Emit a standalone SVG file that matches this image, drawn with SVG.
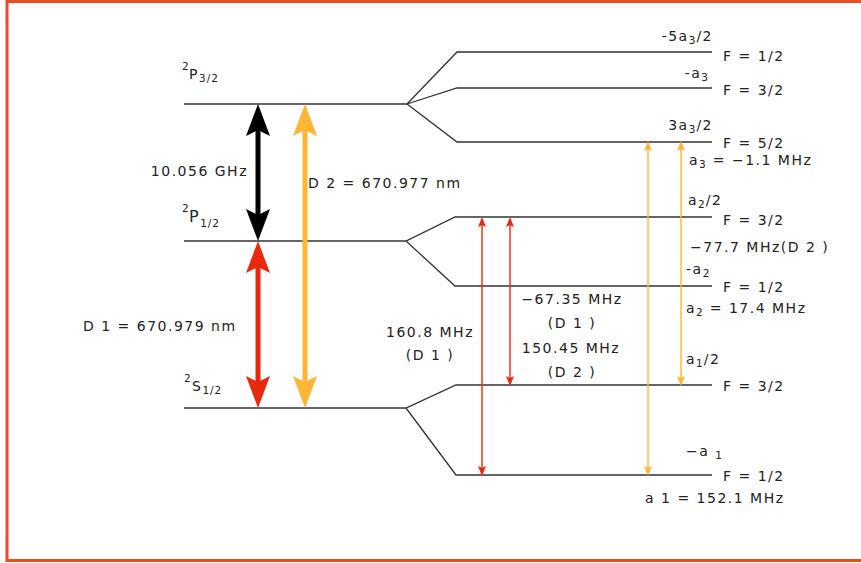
<svg xmlns="http://www.w3.org/2000/svg" width="861" height="563" viewBox="0 0 861 563">
<defs>
<style>
text{font-family:"DejaVu Sans","Noto Sans",sans-serif;font-size:14px;fill:#222;letter-spacing:1.5px}
.sub{font-size:10.5px;letter-spacing:1px}
.big{font-size:16px}
.lvl{stroke:#333;stroke-width:1.3;fill:none}
.thick{stroke-width:5;fill:none}
.thin{stroke-width:1.4;fill:none}
</style>
<marker id="hb" viewBox="0 0 32 24" refX="6" refY="12" markerWidth="32" markerHeight="24" markerUnits="userSpaceOnUse" orient="auto-start-reverse"><path d="M0,0 L32,12 L0,24 L6,12 Z" fill="#000"/></marker>
<marker id="hr" viewBox="0 0 32 24" refX="6" refY="12" markerWidth="32" markerHeight="24" markerUnits="userSpaceOnUse" orient="auto-start-reverse"><path d="M0,0 L32,12 L0,24 L6,12 Z" fill="#e8290f"/></marker>
<marker id="ho" viewBox="0 0 32 24" refX="6" refY="12" markerWidth="32" markerHeight="24" markerUnits="userSpaceOnUse" orient="auto-start-reverse"><path d="M0,0 L32,12 L0,24 L6,12 Z" fill="#ffb536"/></marker>
<marker id="tr" viewBox="0 0 10 8" refX="2" refY="4" markerWidth="10" markerHeight="8" markerUnits="userSpaceOnUse" orient="auto-start-reverse"><path d="M0,0 L10,4 L0,8 L2,4 Z" fill="#e8290f"/></marker>
<marker id="to" viewBox="0 0 10 8" refX="2" refY="4" markerWidth="10" markerHeight="8" markerUnits="userSpaceOnUse" orient="auto-start-reverse"><path d="M0,0 L10,4 L0,8 L2,4 Z" fill="#ffb536"/></marker>
</defs>
<rect width="861" height="563" fill="#fff"/>
<path d="M870,1.5 H7 V560.5 H870" fill="none" stroke="#f04a23" stroke-width="3"/>

<g id="level-P32">
<path class="lvl" d="M184,104 H407 L457,52 H712 M407,104 L457,88 H712 M407,104 L457,142 H712"/>
<text x="182" y="70" class="sub">2</text>
<text x="189" y="79">P<tspan class="sub" dy="3">3/2</tspan></text>
</g>
<g id="level-P12">
<path class="lvl" d="M184,241 H406 L455,217 H712 M406,241 L455,286 H712"/>
<text x="182" y="212" class="sub">2</text>
<text x="189" y="222" class="big">P<tspan class="sub" dy="5">1/2</tspan></text>
</g>
<g id="level-S12">
<path class="lvl" d="M184,408 H406 L456,385 H712 M406,408 L456,475 H712"/>
<text x="184" y="382" class="sub">2</text>
<text x="192" y="391">S<tspan class="sub" dy="3">1/2</tspan></text>
</g>

<g id="connectors">
<line class="thick" x1="258" y1="130" x2="258" y2="215" stroke="#000" marker-start="url(#hb)" marker-end="url(#hb)"/>
<line class="thick" x1="258" y1="267" x2="258" y2="382" stroke="#e8290f" marker-start="url(#hr)" marker-end="url(#hr)"/>
<line class="thick" x1="305" y1="130" x2="305" y2="382" stroke="#ffb536" marker-start="url(#ho)" marker-end="url(#ho)"/>
<line class="thin" x1="482" y1="225" x2="482" y2="468" stroke="#e8290f" marker-start="url(#tr)" marker-end="url(#tr)"/>
<line class="thin" x1="510" y1="225" x2="510" y2="378" stroke="#e8290f" marker-start="url(#tr)" marker-end="url(#tr)"/>
<line class="thin" x1="648" y1="149" x2="648" y2="468" stroke="#ffb536" marker-start="url(#to)" marker-end="url(#to)"/>
<line class="thin" x1="681" y1="149" x2="681" y2="378" stroke="#ffb536" marker-start="url(#to)" marker-end="url(#to)"/>
</g>

<g id="labels">
<text x="248" y="176" text-anchor="end">10.056 GHz</text>
<text x="308" y="188">D 2 = 670.977 nm</text>
<text x="83" y="331">D 1 = 670.979 nm</text>
<text x="430" y="337" text-anchor="middle">160.8 MHz</text>
<text x="430" y="360" text-anchor="middle">(D 1 )</text>
<text x="572" y="304" text-anchor="middle">−67.35 MHz</text>
<text x="572" y="328" text-anchor="middle">(D 1 )</text>
<text x="571" y="353" text-anchor="middle">150.45 MHz</text>
<text x="572" y="377" text-anchor="middle">(D 2 )</text>

<text x="713" y="41" text-anchor="end">-5a<tspan class="sub" dy="3">3</tspan><tspan dy="-3">/2</tspan></text>
<text x="723" y="61">F = 1/2</text>
<text x="709" y="78" text-anchor="end">-a<tspan class="sub" dy="3">3</tspan></text>
<text x="723" y="95">F = 3/2</text>
<text x="713" y="130" text-anchor="end">3a<tspan class="sub" dy="3">3</tspan><tspan dy="-3">/2</tspan></text>
<text x="723" y="148">F = 5/2</text>
<text x="689" y="165">a<tspan class="sub" dy="3">3</tspan><tspan dy="-3"> = −1.1 MHz</tspan></text>
<text x="688" y="205">a<tspan class="sub" dy="3">2</tspan><tspan dy="-3">/2</tspan></text>
<text x="723" y="225">F = 3/2</text>
<text x="690" y="252">−77.7 MHz(D 2 )</text>
<text x="686" y="274">-a<tspan class="sub" dy="3">2</tspan></text>
<text x="723" y="292">F = 1/2</text>
<text x="686" y="313">a<tspan class="sub" dy="3">2</tspan><tspan dy="-3"> = 17.4 MHz</tspan></text>
<text x="686" y="364">a<tspan class="sub" dy="3">1</tspan><tspan dy="-3">/2</tspan></text>
<text x="723" y="391">F = 3/2</text>
<text x="686" y="456">−a <tspan class="sub" dy="3">1</tspan></text>
<text x="723" y="481">F = 1/2</text>
<text x="645" y="503">a 1 = 152.1 MHz</text>
</g>
</svg>
